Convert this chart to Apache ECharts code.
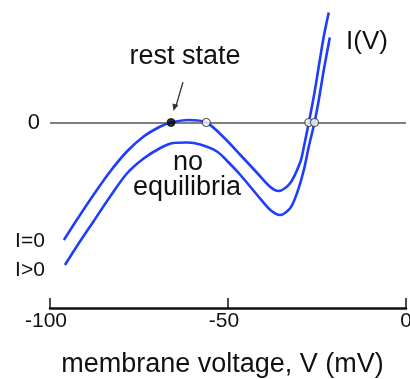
<!DOCTYPE html>
<html>
<head>
<meta charset="utf-8">
<script src="https://cdn.jsdelivr.net/npm/echarts@6/dist/echarts.min.js"></script>
<style>
  html, body { margin: 0; padding: 0; background: #fff; }
  #chart { width: 410px; height: 379px; }
</style>
</head>
<body>
<div id="chart"></div>
<script>
// Membrane voltage (mV) and current (arbitrary units) for the I(V) curve at zero input current
var vRest = [-96.1, -92.5, -87.8, -83.1, -78.4, -73.7, -69.0, -66.0, -61.1, -56.1, -51.3, -46.5, -41.8, -38.1, -35.8, -32.5, -29.7, -28.7, -27.3, -25.9, -24.5, -23.1, -21.7];
var iRest = [-11.75, -9.75, -7.25, -4.9, -2.9, -1.4, -0.4, 0, 0.25, 0, -1.45, -3.25, -5.05, -6.45, -6.85, -6.05, -3.95, -2.45, 0, 2.6, 5.6, 8.6, 11.0];

// Same curve with positive input current: shifted down, no equilibria
var vInj = [-95.8, -92.5, -87.8, -83.1, -78.4, -73.7, -69.0, -65.4, -61.5, -57.8, -53.1, -49.4, -46.5, -41.8, -38.1, -35.3, -32.5, -30.6, -28.7, -27.3, -25.7, -24.5, -23.1, -21.4];
var iInj = [-14.25, -12.4, -9.9, -7.4, -5.1, -3.6, -2.55, -2.05, -2.0, -2.2, -2.9, -4.15, -5.25, -7.25, -8.75, -9.25, -8.55, -7.05, -4.75, -2.4, 0, 2.25, 5.25, 8.5];

// Equilibria on the I=0 curve
var stableV = [-66.0];
var unstableV = [-56.1, -27.3, -25.7];

// Axis ticks
var xTicks = [-100, -50, 0];

var BLUE = '#1f3dff';
var TEXT = '#111';
var FONT = 'Liberation Sans, Arial, sans-serif';

function pairs(xs, ys) {
  return xs.map(function (x, i) { return [x, ys[i]]; });
}

var chart = echarts.init(document.getElementById('chart'), null, { renderer: 'canvas' });

chart.setOption({
  animation: false,
  backgroundColor: '#fff',
  grid: { left: 50, right: 4, top: 0, bottom: 71, containLabel: false, outerBoundsMode: 'none' },
  xAxis: {
    type: 'value',
    min: xTicks[0],
    max: xTicks[xTicks.length - 1],
    interval: xTicks[1] - xTicks[0],
    name: 'membrane voltage, V (mV)',
    nameLocation: 'middle',
    nameGap: 43,
    nameTextStyle: { color: TEXT, fontSize: 27, fontFamily: FONT, padding: [0, 11, 0, 0] },
    axisLine: { show: true, onZero: false, lineStyle: { color: '#111', width: 2.5 } },
    axisTick: { show: true, inside: true, length: 10, lineStyle: { color: '#111', width: 1.5 } },
    axisLabel: {
      color: TEXT, fontSize: 21, fontFamily: FONT, margin: 3,
      formatter: function (v) { return v < 0 ? '{n|' + v + '}' : String(v); },
      rich: { n: { color: TEXT, fontSize: 21, fontFamily: FONT, padding: [0, 8, 0, 0] } }
    },
    splitLine: { show: false }
  },
  yAxis: {
    type: 'value',
    min: -18.55,
    max: 12.25,
    show: false
  },
  series: [
    {
      type: 'line',
      name: 'I=0',
      data: pairs(vRest, iRest),
      smooth: 0.3,
      symbol: 'none',
      lineStyle: { color: BLUE, width: 2.6 },
      z: 3,
      markLine: {
        silent: true,
        symbol: 'none',
        data: [{ yAxis: 0 }],
        lineStyle: { color: '#555', width: 1.5, type: 'solid' },
        label: { show: true, position: 'start', formatter: '0', color: TEXT, fontSize: 22, fontFamily: FONT, distance: 10 },
        z: 1
      }
    },
    {
      type: 'line',
      name: 'I>0',
      data: pairs(vInj, iInj),
      smooth: 0.3,
      symbol: 'none',
      lineStyle: { color: BLUE, width: 2.6 },
      z: 3
    },
    {
      type: 'scatter',
      data: stableV.map(function (v) { return [v, 0]; }),
      symbol: 'circle',
      symbolSize: 8,
      itemStyle: { color: '#000', borderColor: '#000', borderWidth: 1 },
      z: 5
    },
    {
      type: 'scatter',
      data: unstableV.map(function (v) { return [v, 0]; }),
      symbol: 'circle',
      symbolSize: 8,
      itemStyle: { color: '#fff', borderColor: '#333', borderWidth: 1.2 },
      z: 5
    }
  ],
  graphic: [
    { type: 'text', x: 185, y: 57, style: { text: 'rest state', fill: TEXT, fontSize: 27, fontFamily: FONT, align: 'center', verticalAlign: 'middle' } },
    { type: 'line', shape: { x1: 183, y1: 82, x2: 176, y2: 106 }, style: { stroke: '#333', lineWidth: 1.3 } },
    { type: 'polygon', shape: { points: [[173.5, 111], [172.5, 103.5], [178.5, 105]] }, style: { fill: '#333' } },
    { type: 'text', x: 188, y: 163, style: { text: 'no', fill: TEXT, fontSize: 27, fontFamily: FONT, align: 'center', verticalAlign: 'middle' } },
    { type: 'text', x: 187, y: 188, style: { text: 'equilibria', fill: TEXT, fontSize: 27, fontFamily: FONT, align: 'center', verticalAlign: 'middle' } },
    { type: 'text', x: 367, y: 42, style: { text: 'I(V)', fill: TEXT, fontSize: 26, fontFamily: FONT, align: 'center', verticalAlign: 'middle' } },
    { type: 'text', x: 30, y: 241, style: { text: 'I=0', fill: TEXT, fontSize: 21, fontFamily: FONT, align: 'center', verticalAlign: 'middle' } },
    { type: 'text', x: 30, y: 270, style: { text: 'I>0', fill: TEXT, fontSize: 21, fontFamily: FONT, align: 'center', verticalAlign: 'middle' } }
  ]
});
</script>
</body>
</html>
